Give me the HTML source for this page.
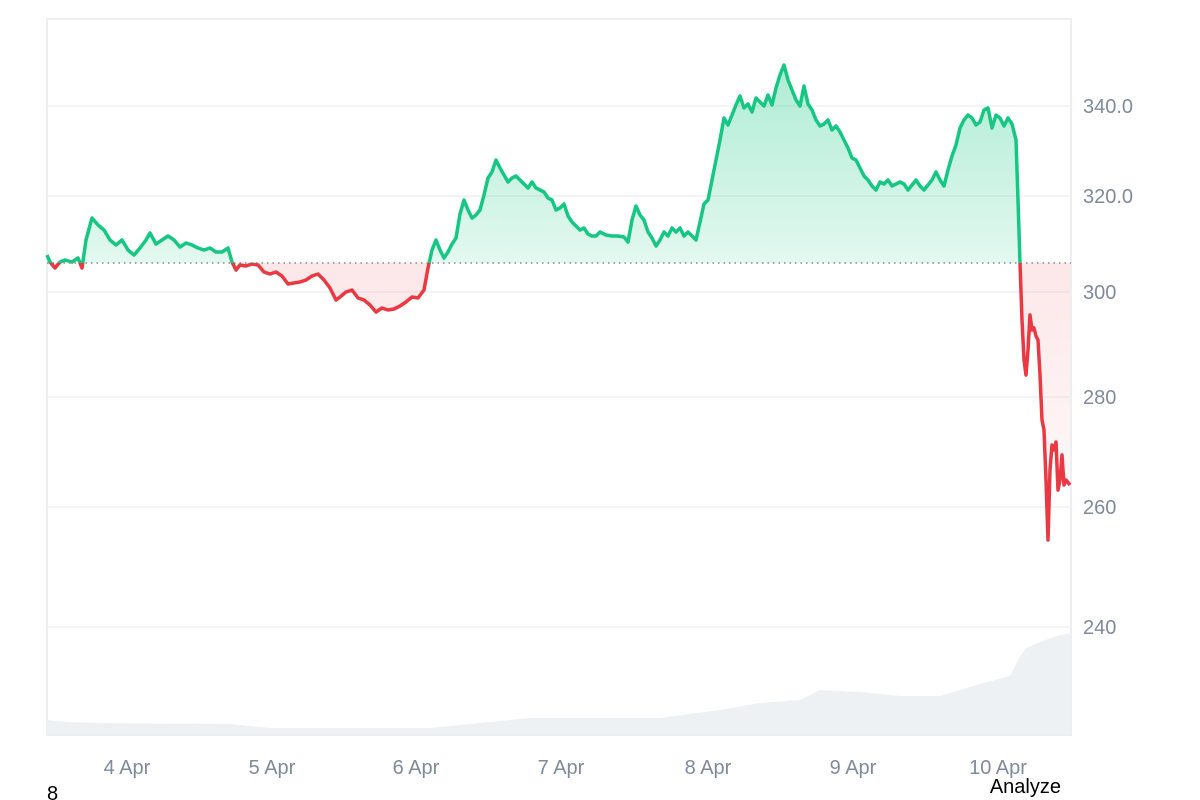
<!DOCTYPE html>
<html><head><meta charset="utf-8"><style>
html,body{margin:0;padding:0;background:#fff;width:1200px;height:800px;overflow:hidden}
svg{display:block}
text{font-family:"Liberation Sans",sans-serif}
</style></head><body>
<svg id="s" width="1200" height="800" viewBox="0 0 1200 800">
<defs>
<linearGradient id="gg" x1="0" y1="60" x2="0" y2="263" gradientUnits="userSpaceOnUse"><stop offset="0" stop-color="#16c784" stop-opacity="0.35"/><stop offset="1" stop-color="#16c784" stop-opacity="0.12"/></linearGradient>
<linearGradient id="rg" x1="0" y1="263" x2="0" y2="540" gradientUnits="userSpaceOnUse"><stop offset="0" stop-color="#ea3943" stop-opacity="0.12"/><stop offset="1" stop-color="#ea3943" stop-opacity="0.02"/></linearGradient>
<clipPath id="above"><rect x="0" y="0" width="1200" height="263"/></clipPath>
<clipPath id="below"><rect x="0" y="263" width="1200" height="600"/></clipPath>
</defs>
<rect x="47" y="19" width="1024" height="716" fill="#fff" stroke="#eceef1" stroke-width="2"/>
<g stroke="#eff1f3" stroke-width="1.5">
<line x1="47" x2="1071" y1="106" y2="106"/><line x1="47" x2="1071" y1="196" y2="196"/>
<line x1="47" x2="1071" y1="292" y2="292"/><line x1="47" x2="1071" y1="397" y2="397"/>
<line x1="47" x2="1071" y1="507" y2="507"/><line x1="47" x2="1071" y1="627" y2="627"/>
</g>
<path id="vol" fill="#eef1f4"/>
<path id="fa" fill="url(#gg)" clip-path="url(#above)"/>
<path id="fb" fill="url(#rg)" clip-path="url(#below)"/>
<line x1="47" x2="1071" y1="263" y2="263" stroke="#888" stroke-width="1.5" stroke-dasharray="1.5 4"/>
<path id="la" fill="none" stroke="#16c784" stroke-width="3.5" stroke-linejoin="round" clip-path="url(#above)"/>
<path id="lb" fill="none" stroke="#ea3943" stroke-width="3.5" stroke-linejoin="round" clip-path="url(#below)"/>
<g fill="#808a9d" font-size="20">
<text x="1083" y="113">340.0</text><text x="1083" y="203">320.0</text><text x="1083" y="299">300</text>
<text x="1083" y="404">280</text><text x="1083" y="514">260</text><text x="1083" y="634">240</text>
<text x="127" y="774" text-anchor="middle">4 Apr</text><text x="272" y="774" text-anchor="middle">5 Apr</text>
<text x="416" y="774" text-anchor="middle">6 Apr</text><text x="561" y="774" text-anchor="middle">7 Apr</text>
<text x="708" y="774" text-anchor="middle">8 Apr</text><text x="853" y="774" text-anchor="middle">9 Apr</text>
<text x="998" y="774" text-anchor="middle">10 Apr</text>
</g>
<text x="47" y="800" font-size="20" fill="#000">8</text>
<text x="1061" y="793" font-size="20" fill="#000" text-anchor="end">Analyze</text>
</svg>
<script>
var p=[47,255,50,262,55,268,60,262,65,260,72,262,78,258,82,268,86,240,92,218,98,225,104,230,110,240,116,245,122,240,128,250,134,255,140,248,146,240,150,233,156,244,162,240,168,236,174,240,180,247,186,243,192,245,198,248,204,250,210,248,216,252,222,252,228,248,232,262,236,270,240,265,246,266,252,264,258,265,264,272,270,274,276,272,282,276,288,284,294,283,300,282,306,280,312,276,318,274,324,280,330,288,336,300,340,297,346,292,352,290,358,298,364,300,370,305,376,312,382,308,388,310,394,309,400,306,406,302,412,297,418,298,424,290,428,268,432,250,436,240,440,250,444,258,448,252,452,244,456,238,460,214,464,200,468,210,472,218,476,215,480,210,484,195,488,178,492,172,496,160,500,168,504,175,508,182,512,178,516,176,520,180,524,184,528,188,532,182,536,188,540,190,544,192,548,198,552,200,556,210,560,208,564,204,568,216,572,222,576,226,580,230,584,228,588,234,592,236,596,236,600,232,606,235,612,236,618,236,624,237,628,242,632,220,636,206,640,215,644,220,648,232,652,238,656,246,660,240,664,232,668,236,672,228,676,232,680,228,684,236,688,232,692,236,696,240,700,222,704,204,708,200,712,180,716,160,720,140,724,118,728,125,732,115,736,105,740,96,744,108,748,104,752,112,756,98,760,102,764,106,768,95,772,105,776,88,780,75,784,65,788,80,792,90,796,100,800,106,804,86,808,104,812,110,816,120,820,126,824,124,828,120,832,130,836,126,840,132,844,140,848,148,852,158,856,160,860,168,864,176,868,180,872,186,876,190,880,182,884,184,888,180,892,186,896,184,900,182,904,184,908,190,912,185,916,180,920,186,924,190,928,185,932,180,936,172,940,180,944,186,948,170,952,156,956,145,960,128,964,120,968,115,972,118,976,125,980,122,984,110,988,108,992,128,996,115,1000,118,1004,126,1008,118,1012,124,1016,140,1018,200,1020,263,1022,320,1024,360,1026,375,1028,350,1030,315,1032,330,1034,328,1036,336,1038,340,1040,375,1042,420,1044,430,1046,480,1048,540,1050,470,1052,445,1054,450,1056,442,1058,490,1060,480,1062,455,1064,485,1066,480,1070,485];
var d="M"+p[0]+","+p[1];for(var i=2;i<p.length;i+=2)d+=" L"+p[i]+","+p[i+1];
["la","lb"].forEach(function(id){document.getElementById(id).setAttribute("d",d)});
var f=d+" L1070,263 L47,263 Z";
["fa","fb"].forEach(function(id){document.getElementById(id).setAttribute("d",f)});
var v=[47,720,70,722,100,723,230,724,270,728,430,728,470,724,530,718,660,718,720,710,760,703,800,700,820,690,860,692,900,696,940,696,960,690,980,684,1010,676,1018,660,1026,648,1040,642,1060,635,1071,633];
var vd="M47,735";for(var i=0;i<v.length;i+=2)vd+=" L"+v[i]+","+v[i+1];vd+=" L1071,735 Z";
document.getElementById("vol").setAttribute("d",vd);
</script>
</body></html>
